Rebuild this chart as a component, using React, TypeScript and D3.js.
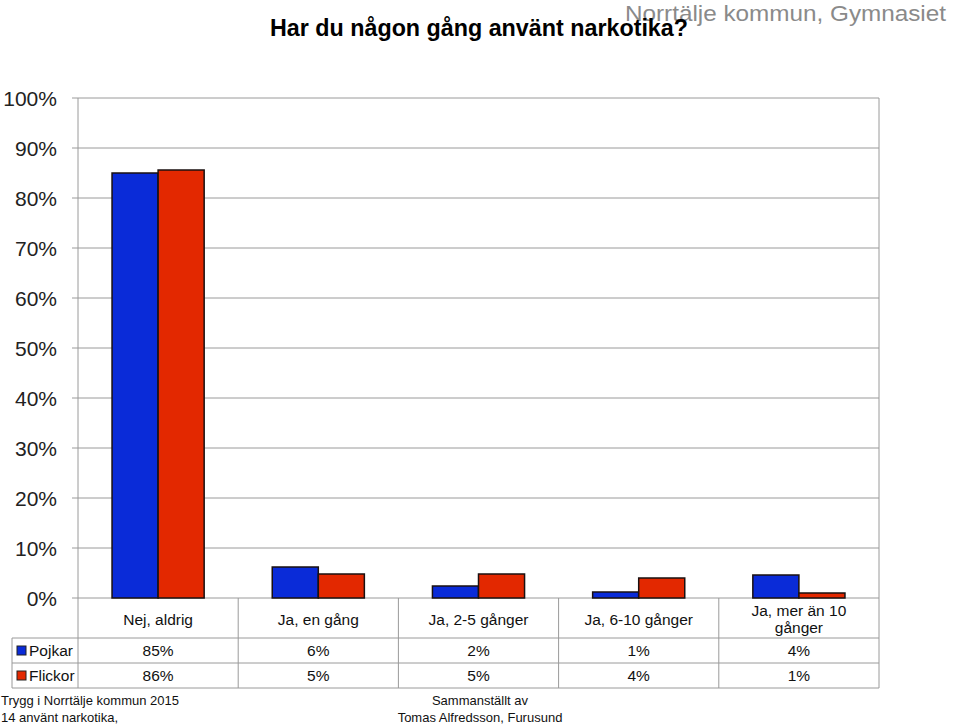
import React from "react";
import * as d3 from "d3";

const categories = ["Nej, aldrig", "Ja, en gång", "Ja, 2-5 gånger", "Ja, 6-10 gånger", "Ja, mer än 10 gånger"];
const categoryLines = [["Nej, aldrig"], ["Ja, en gång"], ["Ja, 2-5 gånger"], ["Ja, 6-10 gånger"], ["Ja, mer än 10", "gånger"]];
const pojkar = [85, 6.2, 2.4, 1.2, 4.6];
const flickor = [85.6, 4.8, 4.8, 4, 1];
const pojkarLabels = ["85%", "6%", "2%", "1%", "4%"];
const flickorLabels = ["86%", "5%", "5%", "4%", "1%"];
const yTicks = [0, 10, 20, 30, 40, 50, 60, 70, 80, 90, 100];
const seriesNames = ["Pojkar", "Flickor"];
const colors = ["#0a2bd8", "#e32800"];

export default function App() {
  const W = 960, H = 726;
  const left = 78, right = 879, top = 98, bottom = 598;
  const x = d3.scaleBand<string>().domain(categories).range([left, right]).paddingInner(0).paddingOuter(0);
  const y = d3.scaleLinear().domain([0, 100]).range([bottom, top]);
  const bw = x.bandwidth();
  const barW = bw * 0.2875;
  const grid = "#9a9a9a";
  const rowY = [598, 638, 663, 688];
  const font = "Liberation Sans, Arial, sans-serif";
  const series = [pojkar, flickor];
  const labels = [pojkarLabels, flickorLabels];

  return (
    <svg width={W} height={H} style={{ position: "absolute", left: 0, top: 0, background: "#fff" }}>
      <rect x={0} y={0} width={W} height={H} fill="#fff" />
      {yTicks.map((t) => (
        <line key={t} x1={left - 6} x2={right} y1={y(t)} y2={y(t)} stroke={grid} strokeWidth={1} />
      ))}
      <line x1={left} x2={left} y1={top} y2={rowY[3]} stroke={grid} />
      <line x1={right} x2={right} y1={top} y2={rowY[3]} stroke={grid} />
      {yTicks.map((t) => (
        <text key={t} x={57} y={y(t) + 8} textAnchor="end" fontFamily={font} fontSize={21} fill="#222">
          {t}%
        </text>
      ))}
      {series.map((s, si) =>
        s.map((v, i) => {
          const cx = (x(categories[i]) as number) + bw / 2;
          const bx = si === 0 ? cx - barW : cx;
          return (
            <rect key={si + "-" + i} x={bx} y={y(v)} width={barW} height={bottom - y(v)}
              fill={colors[si]} stroke="#1a1010" strokeWidth={1.5} />
          );
        })
      )}
      {rowY.slice(1).map((ry) => (
        <line key={ry} x1={12} x2={right} y1={ry} y2={ry} stroke={grid} />
      ))}
      <line x1={12} x2={12} y1={rowY[1]} y2={rowY[3]} stroke={grid} />
      {categories.slice(1).map((c) => (
        <line key={c} x1={x(c) as number} x2={x(c) as number} y1={bottom} y2={rowY[3]} stroke={grid} />
      ))}
      {categoryLines.map((lines, i) => {
        const cx = (x(categories[i]) as number) + bw / 2;
        const y0 = lines.length === 1 ? 625 : 616;
        return lines.map((ln, j) => (
          <text key={i + "-" + j} x={cx} y={y0 + j * 17} textAnchor="middle" fontFamily={font} fontSize={15.5} fill="#111">
            {ln}
          </text>
        ));
      })}
      {seriesNames.map((n, si) => (
        <g key={n}>
          <rect x={17} y={rowY[si + 1] + 8} width={9} height={9} fill={colors[si]} stroke="#222" strokeWidth={1} />
          <text x={29} y={rowY[si + 1] + 18} fontFamily={font} fontSize={15.5} fill="#111">{n}</text>
          {labels[si].map((l, i) => (
            <text key={i} x={(x(categories[i]) as number) + bw / 2} y={rowY[si + 1] + 18} textAnchor="middle"
              fontFamily={font} fontSize={15.5} fill="#111">{l}</text>
          ))}
        </g>
      ))}
      <text x={946} y={21} textAnchor="end" fontFamily="Liberation Sans Narrow, Arial Narrow, Liberation Sans, sans-serif"
        fontSize={22} fill="#8a8a8a" textLength={321} lengthAdjust="spacingAndGlyphs">Norrtälje kommun, Gymnasiet</text>
      <text x={270} y={36} fontFamily="Liberation Sans Narrow, Arial Narrow, Liberation Sans, sans-serif" fontWeight="bold"
        fontSize={24} fill="#000" textLength={418} lengthAdjust="spacingAndGlyphs">Har du någon gång använt narkotika?</text>
      <text x={1} y={705} fontFamily={font} fontSize={13} fill="#111">Trygg i Norrtälje kommun 2015</text>
      <text x={1} y={722} fontFamily={font} fontSize={13} fill="#111">14 använt narkotika,</text>
      <text x={480} y={705} textAnchor="middle" fontFamily={font} fontSize={13} fill="#111">Sammanställt av</text>
      <text x={480} y={722} textAnchor="middle" fontFamily={font} fontSize={13} fill="#111">Tomas Alfredsson, Furusund</text>
    </svg>
  );
}
